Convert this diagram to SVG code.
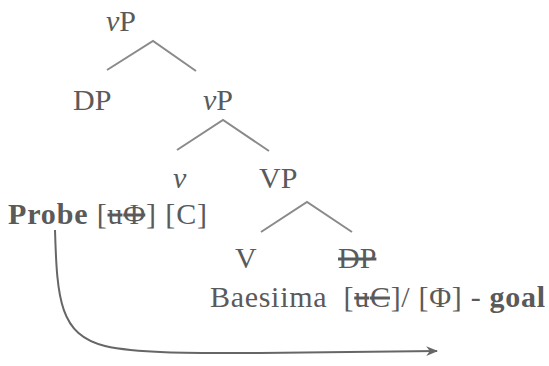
<svg xmlns="http://www.w3.org/2000/svg" width="549" height="366" viewBox="0 0 549 366">
<style>
text{font-family:"Liberation Serif","Times New Roman",serif;font-size:30px;fill:#5a5a5a}
.b{font-weight:bold}
.i{font-style:italic}
.s{text-decoration:line-through}
.br{fill:none;stroke:#8a8a8a;stroke-width:2}
.arr{fill:none;stroke:#666;stroke-width:2}
</style>
<defs>
<marker id="ah" viewBox="0 0 10 10" refX="9" refY="5" markerWidth="6" markerHeight="6" markerUnits="strokeWidth" orient="auto">
<path d="M0,1 L10,5 L0,9 L3,5 Z" fill="#666"/>
</marker>
</defs>
<g id="n-vP1"><text x="106" y="31"><tspan class="i">v</tspan>P</text></g>
<g id="n-DP1"><text x="73" y="110">DP</text></g>
<g id="n-vP2"><text x="203" y="110"><tspan class="i">v</tspan>P</text></g>
<g id="n-v"><text x="173" y="188" class="i">v</text></g>
<g id="n-VP"><text x="259" y="188">VP</text></g>
<g id="n-probe"><text x="8" y="224" textLength="199" lengthAdjust="spacing"><tspan class="b">Probe</tspan> [<tspan class="s">uΦ</tspan>] [C]</text></g>
<g id="n-V"><text x="235" y="268">V</text></g>
<g id="n-DP2"><text x="338" y="268" class="s">DP</text></g>
<g id="n-goal"><text x="210" y="307" xml:space="preserve" textLength="335" lengthAdjust="spacing">Baesiima  [<tspan class="s">uC</tspan>]/ [Φ] - <tspan class="b">goal</tspan></text></g>
<g id="connectors">
<polyline class="br" points="107,70 153,41 196,71"/>
<polyline class="br" points="177,150 223,120 269,151"/>
<polyline class="br" points="261,232 307,202 352,232"/>
<path class="arr" d="M55,230 C57,300 60,335 105,346 C140,354 200,353 260,353 L437,351" marker-end="url(#ah)"/>
</g>
</svg>
